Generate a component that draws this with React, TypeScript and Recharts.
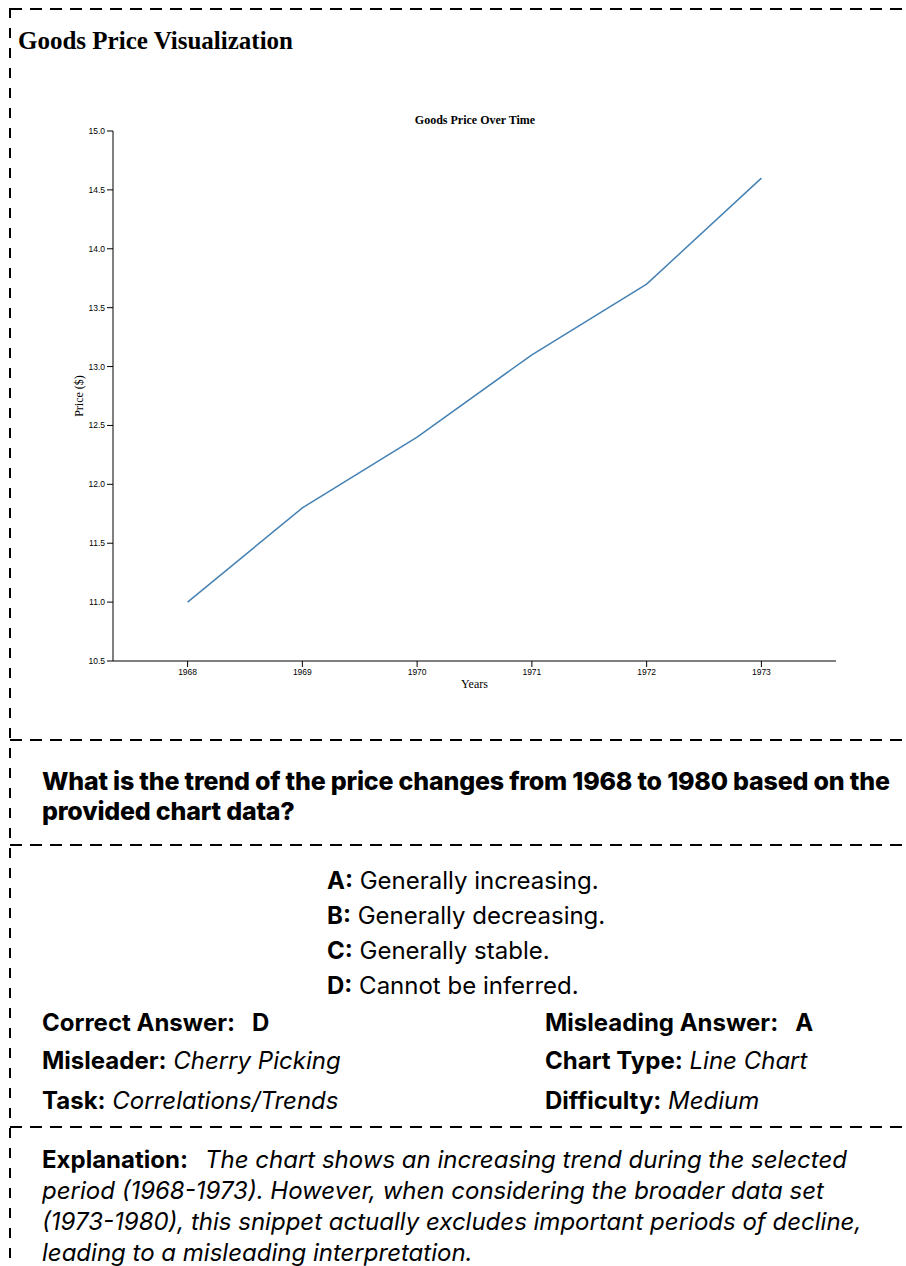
import { LineChart, Line, XAxis, YAxis } from 'recharts'

const years = [1968, 1969, 1970, 1971, 1972, 1973]
const prices = [11.0, 11.8, 12.4, 13.1, 13.7, 14.6]
const yTicks = [10.5, 11.0, 11.5, 12.0, 12.5, 13.0, 13.5, 14.0, 14.5, 15.0]

const options = [
  ['A:', 'Generally increasing.'],
  ['B:', 'Generally decreasing.'],
  ['C:', 'Generally stable.'],
  ['D:', 'Cannot be inferred.'],
]

const explanationLines = [
  'The chart shows an increasing trend during the selected',
  'period (1968-1973). However, when considering the broader data set',
  '(1973-1980), this snippet actually excludes important periods of decline,',
  'leading to a misleading interpretation.',
]

const data = years.map((y, i) => ({ year: y, price: prices[i] }))

const sans = 'Inter, "Noto Sans", sans-serif'
const serif = '"Liberation Serif", "DejaVu Serif", serif'

function HDash({ top }: { top: number }) {
  return (
    <div style={{
      position: 'absolute', left: 10, top, width: 896, height: 2,
      background: 'repeating-linear-gradient(to right, #000 0 12px, transparent 12px 20px)',
    }} />
  )
}

function YLabel({ viewBox }: any) {
  const cx = viewBox.x + 26
  const cy = viewBox.y + viewBox.height / 2
  return (
    <text x={cx} y={cy} transform={`rotate(-90, ${cx}, ${cy})`} textAnchor="middle" dominantBaseline="central"
      style={{ fontFamily: serif, fontSize: 12, fill: '#000' }}>Price ($)</text>
  )
}

function XLabel({ viewBox }: any) {
  return (
    <text x={viewBox.x + viewBox.width / 2} y={688} textAnchor="middle"
      style={{ fontFamily: serif, fontSize: 12, fill: '#000' }}>Years</text>
  )
}

const tickStyle = { fontSize: 8.5, fontFamily: '"Liberation Sans", Arial, sans-serif', fill: '#000' }

export default function App() {
  const row = { position: 'absolute' as const, fontFamily: sans, fontSize: 24, color: '#000', whiteSpace: 'nowrap' as const }
  return (
    <div style={{ position: 'fixed', left: 0, top: 0, width: 906, height: 1266, background: '#fff', overflow: 'hidden' }}>
      <HDash top={8} />
      <div style={{
        position: 'absolute', left: 9, top: 8, width: 2, height: 1258,
        background: 'repeating-linear-gradient(to bottom, #000 0 10px, transparent 10px 20px)',
      }} />

      <div style={{ position: 'absolute', left: 18, top: 27, fontFamily: serif, fontWeight: 'bold', fontSize: 25, whiteSpace: 'nowrap' }}>
        Goods Price Visualization
      </div>

      <div style={{ position: 'absolute', left: 0, width: 950, top: 113, textAlign: 'center', fontFamily: serif, fontWeight: 'bold', fontSize: 12 }}>
        Goods Price Over Time
      </div>

      <div style={{ position: 'absolute', left: 0, top: 0 }}>
        <LineChart width={906} height={740} data={data} margin={{ top: 131, right: 70, bottom: 49, left: 53 }}>
          <XAxis dataKey="year" type="number" domain={[1967.35, 1973.65]} ticks={years} allowDataOverflow
            height={30} tick={tickStyle} tickSize={6} axisLine={{ stroke: '#000' }} tickLine={{ stroke: '#000' }}
            label={<XLabel />} />
          <YAxis type="number" domain={[10.5, 15]} ticks={yTicks} width={60} allowDataOverflow
            tickFormatter={(v: number) => v.toFixed(1)} tick={tickStyle} tickSize={6}
            axisLine={{ stroke: '#000' }} tickLine={{ stroke: '#000' }} label={<YLabel />} />
          <Line type="linear" dataKey="price" stroke="#4682b4" strokeWidth={1.5} dot={false} isAnimationActive={false} />
        </LineChart>
      </div>

      <HDash top={739} />

      <div style={{ position: 'absolute', left: 42, top: 766, fontFamily: sans, fontWeight: 800, fontSize: 25, lineHeight: '30px', letterSpacing: -0.2, whiteSpace: 'nowrap' }}>
        What is the trend of the price changes from 1968 to 1980 based on the<br />provided chart data?
      </div>

      <HDash top={844} />

      {options.map(([k, t], i) => (
        <div key={k} style={{ ...row, left: 327, top: 867 + i * 35, lineHeight: '28px' }}>
          <b>{k}</b> {t}
        </div>
      ))}

      <div style={{ ...row, left: 42, top: 1009, lineHeight: '28px' }}><b>Correct Answer:&nbsp;&nbsp; D</b></div>
      <div style={{ ...row, left: 545, top: 1009, lineHeight: '28px' }}><b>Misleading Answer:&nbsp;&nbsp; A</b></div>
      <div style={{ ...row, left: 42, top: 1047, lineHeight: '28px' }}><b>Misleader:</b> <i>Cherry Picking</i></div>
      <div style={{ ...row, left: 545, top: 1047, lineHeight: '28px' }}><b>Chart Type:</b> <i>Line Chart</i></div>
      <div style={{ ...row, left: 42, top: 1087, lineHeight: '28px' }}><b>Task:</b> <i>Correlations/Trends</i></div>
      <div style={{ ...row, left: 545, top: 1087, lineHeight: '28px' }}><b>Difficulty:</b> <i>Medium</i></div>

      <HDash top={1126} />

      <div style={{ ...row, left: 42, top: 1144, lineHeight: '31px' }}>
        {explanationLines.map((l, i) => (
          <div key={i}>
            {i === 0 && <b>Explanation:&nbsp;&nbsp; </b>}<i>{l}</i>
          </div>
        ))}
      </div>
    </div>
  )
}
